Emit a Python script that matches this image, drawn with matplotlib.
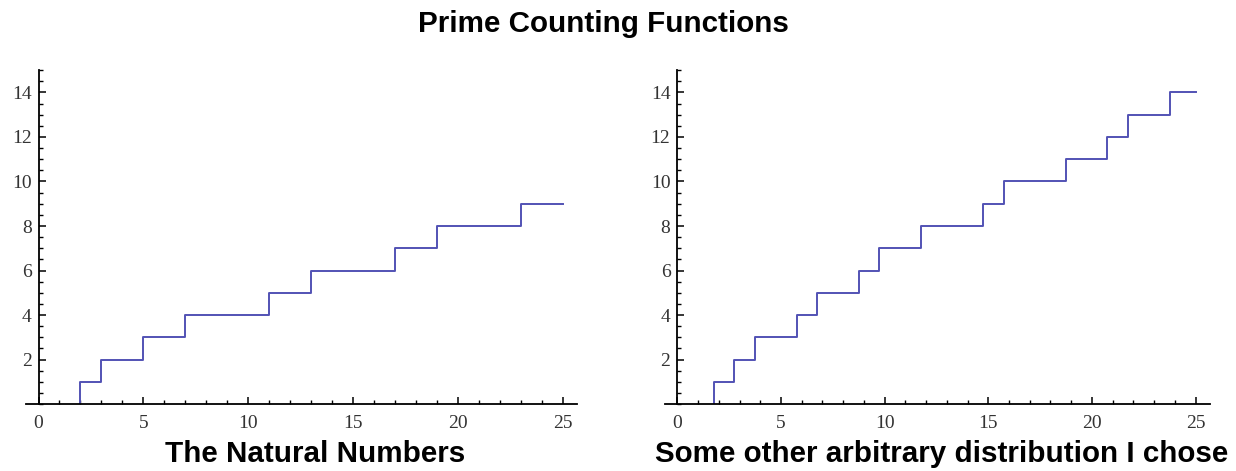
import numpy as np
import matplotlib
matplotlib.use('Agg')
import matplotlib.pyplot as plt
from matplotlib.ticker import MultipleLocator, FixedLocator

# jump points of each counting function
natural_primes = [2, 3, 5, 7, 11, 13, 17, 19, 23]
other_points = [1.75, 2.75, 3.75, 5.75, 6.75, 8.75, 9.75, 11.75,
                14.75, 15.75, 18.75, 20.75, 21.75, 23.75]
x_end = 25

x_ticks = [0, 5, 10, 15, 20, 25]
y_ticks = [2, 4, 6, 8, 10, 12, 14]

titles = ['The Natural Numbers', 'Some other arbitrary distribution I chose']
line_color = '#5252b4'


def step_xy(points, end):
    xs = [points[0]] + list(points) + [end]
    ys = [0] + list(range(1, len(points) + 1)) + [len(points)]
    return xs, ys


fig = plt.figure(figsize=(12.36, 4.71), dpi=100)
ax1 = fig.add_axes([0.021, 0.142, 0.446, 0.709])
ax2 = fig.add_axes([0.538, 0.142, 0.441, 0.709])

for ax, pts, title, cx in [(ax1, natural_primes, titles[0], 0.255),
                           (ax2, other_points, titles[1], 0.762)]:
    xs, ys = step_xy(pts, x_end)
    ax.step(xs, ys, where='post', color=line_color, lw=1.4)
    ax.set_xlim(-0.6, 25.7)
    ax.set_ylim(0, 15)
    ax.spines['top'].set_visible(False)
    ax.spines['right'].set_visible(False)
    ax.spines['left'].set_position(('data', 0))
    ax.spines['left'].set_bounds(0, 15)
    for s in ['left', 'bottom']:
        ax.spines[s].set_linewidth(1.3)
    ax.xaxis.set_major_locator(FixedLocator(x_ticks))
    ax.xaxis.set_minor_locator(MultipleLocator(1))
    ax.yaxis.set_major_locator(FixedLocator(y_ticks))
    ax.yaxis.set_minor_locator(MultipleLocator(0.5))
    ax.tick_params(which='major', direction='in', length=5, width=1.1,
                   labelsize=14)
    ax.tick_params(axis='x', which='major', pad=8)
    ax.tick_params(axis='y', which='major', pad=5)
    ax.tick_params(which='minor', direction='in', length=3, width=1.0)
    for lab in ax.get_xticklabels() + ax.get_yticklabels():
        lab.set_family('Liberation Serif')
        lab.set_color('#333333')
    ax.patch.set_alpha(0)
    fig.text(cx, 0.019, title, ha='center', va='baseline',
             family='Liberation Sans', weight='bold', fontsize=21.3)

fig.text(0.488, 0.932, 'Prime Counting Functions', ha='center', va='baseline',
         family='Liberation Sans', weight='bold', fontsize=21.3)

fig.savefig('out.png', dpi=100)
